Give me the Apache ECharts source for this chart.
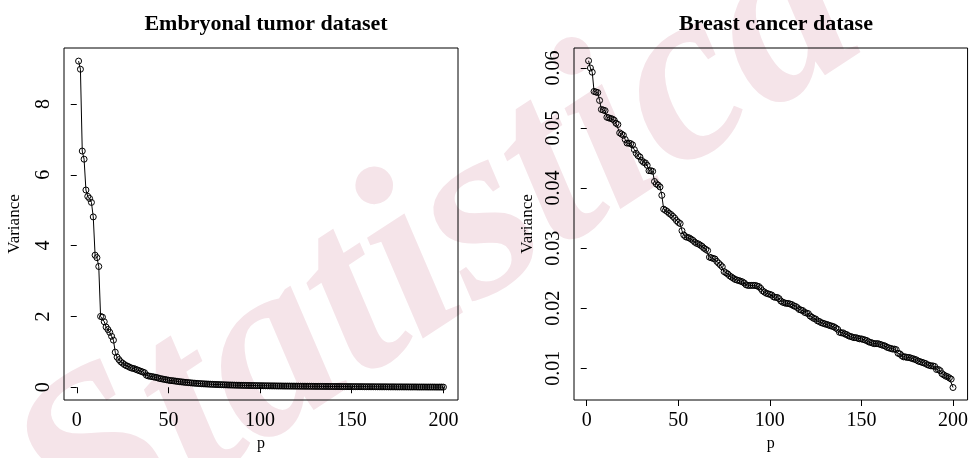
<!DOCTYPE html>
<html>
<head>
<meta charset="utf-8">
<script src="https://cdn.jsdelivr.net/npm/echarts@6/dist/echarts.min.js"></script>
<style>
  html, body { margin: 0; padding: 0; background: #fff; }
  #chart { width: 971px; height: 458px; }
</style>
</head>
<body>
<div id="chart"></div>
<script>
// variance of the first 200 components
const embryonalVar = [
  9.21, 8.98, 6.67, 6.44, 5.57, 5.39, 5.33, 5.22, 4.81, 3.73,
  3.66, 3.41, 2.00, 1.98, 1.85, 1.70, 1.63, 1.55, 1.44, 1.33,
  0.99, 0.85, 0.78, 0.72, 0.68, 0.64, 0.61, 0.59, 0.56, 0.54,
  0.53, 0.51, 0.49, 0.47, 0.45, 0.43, 0.41, 0.34, 0.32, 0.31,
  0.30, 0.29, 0.28, 0.27, 0.25, 0.24, 0.23, 0.22, 0.21, 0.20,
  0.19, 0.185, 0.18, 0.172, 0.165, 0.158, 0.152, 0.146, 0.140, 0.135,
  0.130, 0.125, 0.120, 0.116, 0.112, 0.108, 0.104, 0.100, 0.097, 0.094,
  0.091, 0.088, 0.085, 0.083, 0.080, 0.078, 0.076, 0.074, 0.072, 0.070,
  0.068, 0.066, 0.064, 0.063, 0.061, 0.060, 0.058, 0.057, 0.056, 0.054,
  0.053, 0.052, 0.051, 0.050, 0.049, 0.048, 0.047, 0.046, 0.045, 0.044,
  0.043, 0.042, 0.041, 0.041, 0.040, 0.039, 0.038, 0.038, 0.037, 0.036,
  0.036, 0.035, 0.034, 0.034, 0.033, 0.033, 0.032, 0.032, 0.031, 0.031,
  0.030, 0.030, 0.029, 0.029, 0.028, 0.028, 0.027, 0.027, 0.026, 0.026,
  0.025, 0.025, 0.024, 0.024, 0.023, 0.023, 0.023, 0.022, 0.022, 0.021,
  0.021, 0.021, 0.020, 0.020, 0.019, 0.019, 0.019, 0.018, 0.018, 0.018,
  0.017, 0.017, 0.017, 0.016, 0.016, 0.016, 0.015, 0.015, 0.015, 0.014,
  0.014, 0.014, 0.013, 0.013, 0.013, 0.012, 0.012, 0.012, 0.012, 0.011,
  0.011, 0.011, 0.011, 0.010, 0.010, 0.010, 0.010, 0.009, 0.009, 0.009,
  0.009, 0.008, 0.008, 0.008, 0.008, 0.007, 0.007, 0.007, 0.007, 0.007,
  0.006, 0.006, 0.006, 0.006, 0.006, 0.005, 0.005, 0.005, 0.005, 0.004
]

const breastVar = [
  0.0612, 0.0600, 0.0593, 0.0561, 0.0560, 0.0559, 0.0546, 0.0531, 0.0530, 0.0529,
  0.0518, 0.0517, 0.0516, 0.0515, 0.0513, 0.0508, 0.0506, 0.0492, 0.0490, 0.0488,
  0.0481, 0.0475, 0.0475, 0.0474, 0.0472, 0.0464, 0.0458, 0.0454, 0.0452, 0.0446,
  0.0443, 0.0442, 0.0438, 0.0429, 0.0429, 0.0428, 0.0411, 0.0407, 0.0405, 0.0402,
  0.0388, 0.0365, 0.0363, 0.0361, 0.0358, 0.0356, 0.0353, 0.0350, 0.0346, 0.0343,
  0.0341, 0.0329, 0.0322, 0.0319, 0.0318, 0.0317, 0.0315, 0.0313, 0.0310, 0.0308,
  0.0307, 0.0305, 0.0303, 0.0300, 0.0298, 0.0296, 0.0285, 0.0284, 0.0283, 0.0282,
  0.0278, 0.0275, 0.0272, 0.0269, 0.0261, 0.0259, 0.0257, 0.0254, 0.0252, 0.0250,
  0.0248, 0.0247, 0.0246, 0.0245, 0.0244, 0.0242, 0.0239, 0.0238, 0.0238, 0.0238,
  0.0238, 0.0238, 0.0237, 0.0236, 0.0233, 0.0229, 0.0227, 0.0225, 0.0224, 0.0223,
  0.0222, 0.0219, 0.0218, 0.0218, 0.0216, 0.0212, 0.0210, 0.0209, 0.0208, 0.0208,
  0.0207, 0.0206, 0.0204, 0.0203, 0.0201, 0.0198, 0.0197, 0.0196, 0.0193, 0.0192,
  0.0191, 0.0187, 0.0185, 0.0183, 0.0182, 0.0179, 0.0178, 0.0176, 0.0175, 0.0174,
  0.0173, 0.0172, 0.0171, 0.0170, 0.0169, 0.0167, 0.0165, 0.0160, 0.0159, 0.0159,
  0.0157, 0.0156, 0.0154, 0.0153, 0.0152, 0.0151, 0.0151, 0.0150, 0.0149, 0.0149,
  0.0148, 0.0147, 0.0146, 0.0144, 0.0143, 0.0142, 0.0141, 0.0141, 0.0141, 0.0140,
  0.0139, 0.0138, 0.0137, 0.0135, 0.0134, 0.0133, 0.0132, 0.0132, 0.0131, 0.0125,
  0.0124, 0.0121, 0.0119, 0.0119, 0.0118, 0.0118, 0.0117, 0.0116, 0.0115, 0.0114,
  0.0112, 0.0111, 0.0110, 0.0109, 0.0108, 0.0106, 0.0105, 0.0104, 0.0104, 0.0103,
  0.0098, 0.0098, 0.0096, 0.0091, 0.0089, 0.0087, 0.0086, 0.0084, 0.0082, 0.0068
]

const xTicks = [0, 50, 100, 150, 200]
const leftYTicks = [0, 2, 4, 6, 8]
const rightYTicks = [0.01, 0.02, 0.03, 0.04, 0.05, 0.06]
const titles = ['Embryonal tumor dataset', 'Breast cancer datase']

const FONT = 'Liberation Serif'

const toPoints = (vals) => vals.map((v, i) => [i + 1, v])

const xAxisOf = (gridIndex) => ({
  type: 'value',
  gridIndex,
  min: -6.96,
  max: 207.96,
  name: 'p',
  nameLocation: 'middle',
  nameGap: 31,
  nameTextStyle: { fontFamily: FONT, fontSize: 16, color: '#000' },
  axisLine: { show: false },
  splitLine: { show: false },
  axisTick: { show: true, inside: false, length: 6, customValues: xTicks, lineStyle: { color: '#000' } },
  axisLabel: { customValues: xTicks, margin: 11, fontFamily: FONT, fontSize: 20, color: '#000' }
})

const yAxisOf = (gridIndex, min, max, ticks, fmt, gap, margin) => ({
  type: 'value',
  gridIndex,
  min,
  max,
  name: 'Variance',
  nameLocation: 'middle',
  nameRotate: 90,
  nameGap: gap,
  nameTextStyle: { fontFamily: FONT, fontSize: 17, color: '#000' },
  axisLine: { show: false },
  splitLine: { show: false },
  axisTick: { show: true, inside: false, length: 6, customValues: ticks, lineStyle: { color: '#000' } },
  axisLabel: {
    customValues: ticks, rotate: 90, margin, fontFamily: FONT, fontSize: 20, color: '#000',
    formatter: fmt
  }
})

// R type="b": open circles joined by a thin line
const seriesOf = (idx, vals) => ({
  type: 'line',
  xAxisIndex: idx,
  yAxisIndex: idx,
  data: toPoints(vals),
  symbol: 'circle',
  symbolSize: 6,
  showSymbol: true,
  showAllSymbol: true,
  animation: false,
  lineStyle: { color: '#000', width: 1 },
  itemStyle: { color: 'rgba(0,0,0,0)', borderColor: '#000', borderWidth: 1 },
  z: 3
})

const chart = echarts.init(document.getElementById('chart'), null, { renderer: 'canvas' })

chart.setOption({
  backgroundColor: '#fff',
  animation: false,
  graphic: [{
    type: 'text',
    z: -10,
    silent: true,
    x: 440,
    y: 250,
    rotation: 0.58,
    style: {
      text: 'Statistica',
      font: 'italic bold 250px "Liberation Serif"',
      fill: '#f5e4e9',
      align: 'center',
      verticalAlign: 'middle'
    }
  }],
  title: [
    { text: titles[0], left: 261, top: 8, textAlign: 'center',
      textStyle: { fontFamily: FONT, fontWeight: 'bold', fontSize: 22, color: '#000' } },
    { text: titles[1], left: 771, top: 8, textAlign: 'center',
      textStyle: { fontFamily: FONT, fontWeight: 'bold', fontSize: 22, color: '#000' } }
  ],
  grid: [
    { left: 64, top: 48, width: 394, height: 352, show: true, borderColor: '#000', borderWidth: 1, backgroundColor: 'transparent' },
    { left: 574, top: 48, width: 394, height: 352, show: true, borderColor: '#000', borderWidth: 1, backgroundColor: 'transparent' }
  ],
  xAxis: [xAxisOf(0), xAxisOf(1)],
  yAxis: [
    yAxisOf(0, -0.36, 9.58, leftYTicks, (v) => String(v), 41, 10),
    yAxisOf(1, 0.00472, 0.06333, rightYTicks, (v) => v.toFixed(2), 38, 10)
  ],
  series: [seriesOf(0, embryonalVar), seriesOf(1, breastVar)]
})
</script>
</body>
</html>
